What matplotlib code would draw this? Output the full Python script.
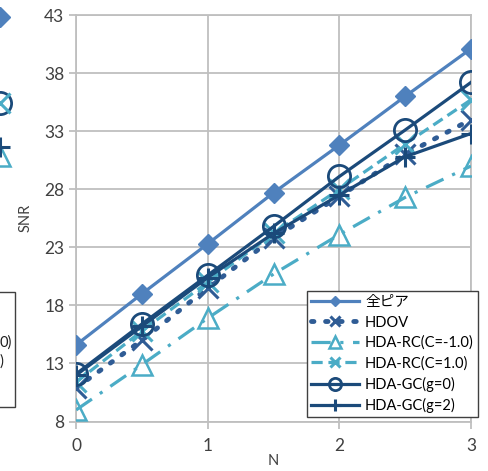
import numpy as np
import matplotlib.pyplot as plt
from matplotlib.patches import Rectangle

plt.rcParams['font.family'] = ['Lato', 'Noto Sans CJK JP', 'DejaVu Sans']

# データ
n = [0, 0.5, 1, 1.5, 2, 2.5, 3]
all_peer = [14.6, 19.0, 23.3, 27.7, 31.8, 36.0, 40.1]
hdov = [10.9, 15.0, 19.5, 23.8, 27.4, 31.0, 34.0]
rc_m1 = [9.0, 12.9, 16.9, 20.7, 24.1, 27.3, 30.0]
rc_p1 = [11.4, 15.8, 20.0, 24.2, 28.0, 31.9, 35.7]
gc_0 = [12.1, 16.4, 20.6, 24.8, 29.1, 33.1, 37.2]
gc_2 = [12.0, 16.2, 20.4, 24.2, 27.5, 30.8, 32.8]
yticks = [8, 13, 18, 23, 28, 33, 38, 43]

# 隣のグラフ(切れている部分)
side_y = [42.8, 35.4, 31.6, 30.9]

c_peer = '#4F81BD'
c_hdov = '#2F5C95'
c_rc = '#4BACC6'
c_gc = '#1B4A7A'

fig = plt.figure(figsize=(4.88, 4.71), dpi=100)
ax = fig.add_axes([0.156, 0.105, 0.809, 0.863])

ax.plot(n, all_peer, color=c_peer, lw=2.3, marker='D', ms=10, label='全ピア', zorder=3)
ax.plot(n, hdov, color=c_hdov, lw=3.5, ls=(0, (0.5, 2.4)), dash_capstyle='round',
        marker='x', ms=14, mew=2.2, label='HDOV', zorder=3)
ax.plot(n, rc_m1, color=c_rc, lw=2.3, ls=(0, (6, 3, 1, 3)), marker='^', ms=15,
        mfc='none', mew=1.8, label='HDA-RC(C=-1.0)', zorder=3)
ax.plot(n, rc_p1, color=c_rc, lw=2.3, ls=(0, (3.5, 1.8)), marker='x', ms=14,
        mew=2.2, label='HDA-RC(C=1.0)', zorder=3)
ax.plot(n, gc_0, color=c_gc, lw=2.3, marker='o', ms=16, mfc='none', mew=2,
        label='HDA-GC(g=0)', zorder=4)
ax.plot(n, gc_2, color=c_gc, lw=2.3, marker='+', ms=15, mew=2.2,
        label='HDA-GC(g=2)', zorder=4)

ax.set_xlim(0, 3)
ax.set_ylim(8, 43)
ax.set_xticks([0, 1, 2, 3])
ax.set_yticks(yticks)
ax.grid(True, color='#BFBFBF', lw=1.3)
ax.set_axisbelow(True)
for s in ax.spines.values():
    s.set_color('#BFBFBF')
    s.set_linewidth(1.3)
ax.tick_params(colors='#BFBFBF', labelcolor='#404040', labelsize=12.5, length=5, width=1.3)
ax.tick_params(axis='x', pad=7)
ax.set_ylabel('SNR', fontsize=10.5, color='#404040', labelpad=8)
ax.set_xlabel('N', fontsize=10.5, color='#404040')
ax.xaxis.set_label_coords(0.5, -0.08)

leg = ax.legend(loc='upper right', bbox_to_anchor=(0.98, 0.382), bbox_transform=fig.transFigure,
                borderaxespad=0, fancybox=False, framealpha=1, edgecolor='#404040',
                fontsize=10.5, handlelength=3.3, handletextpad=0.4, labelspacing=0.42,
                borderpad=0.3, markerscale=0.55)
leg.get_frame().set_linewidth(1.0)

# 左側に切れて見える隣のグラフ
ax2 = fig.add_axes([-0.5, 0.105, 0.5, 0.863])
ax2.set_xlim(0, 3)
ax2.set_ylim(8, 43)
ax2.axis('off')
ax2.plot([3], [side_y[0]], color=c_peer, marker='D', ms=10, ls='none', clip_on=False)
ax2.plot([3], [side_y[1]], color=c_gc, marker='o', ms=16, mfc='none', mew=2, ls='none', clip_on=False)
ax2.plot([3], [side_y[1]], color=c_rc, marker='x', ms=14, mew=2.2, ls='none', clip_on=False)
ax2.plot([3], [side_y[3]], color=c_rc, marker='^', ms=15, mfc='none', mew=1.8, ls='none', clip_on=False)
ax2.plot([3], [side_y[2]], color=c_gc, marker='+', ms=15, mew=2.2, ls='none', clip_on=False)
fig.patches.append(Rectangle((-0.1, 1 - 407 / 471), 0.1 + 15 / 488, 115 / 471,
                             transform=fig.transFigure, fill=False, ec='#404040', lw=1.0))
fig.text(0.0, 1 - 343 / 471, '0)', fontsize=10.5, color='#202020', ha='left', va='center')
fig.text(0.0, 1 - 362 / 471, ')', fontsize=10.5, color='#202020', ha='left', va='center')

fig.savefig('out.png')
